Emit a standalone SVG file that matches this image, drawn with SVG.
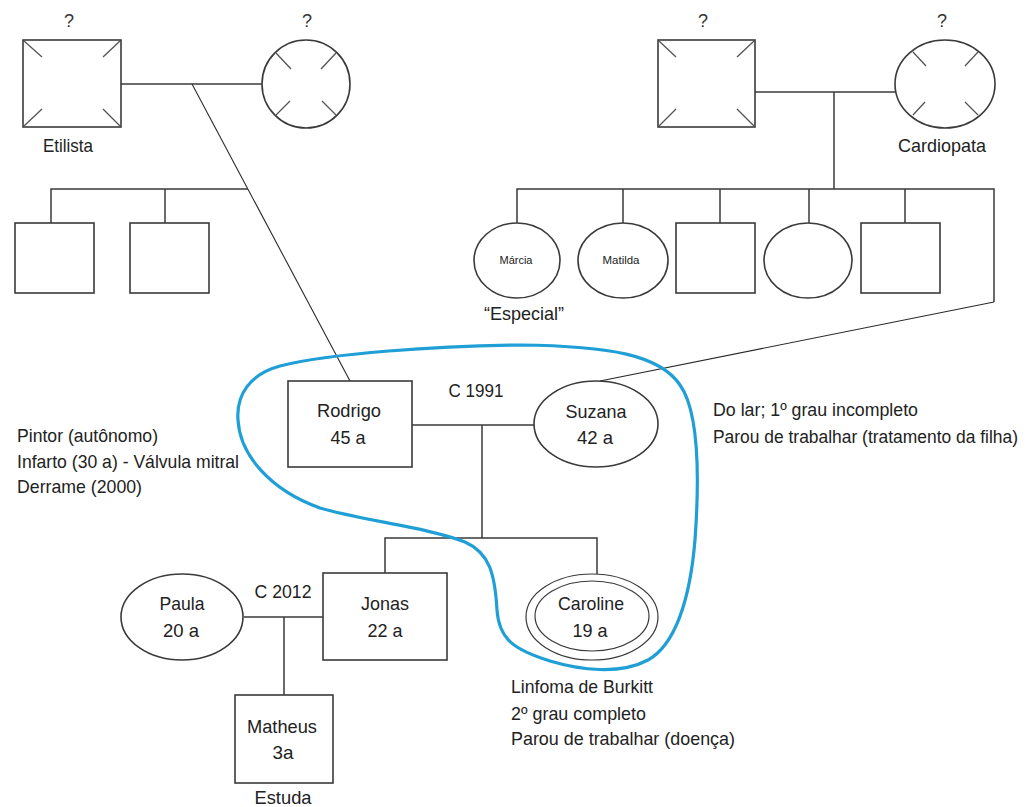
<svg xmlns="http://www.w3.org/2000/svg" width="1035" height="807" viewBox="0 0 1035 807">
<style>
.ln{stroke:#3a3a3a;stroke-width:1.5;fill:none}
.thin{stroke:#2a2a2a;stroke-width:1.1;fill:none}
.sh{fill:#fff;stroke:#3a3a3a;stroke-width:1.6}
.tk{stroke:#555;stroke-width:1.3}
.t{font-family:"Liberation Sans",Arial,sans-serif;font-size:19px;fill:#222;text-anchor:middle}
.tl{font-family:"Liberation Sans",Arial,sans-serif;font-size:19px;fill:#222}
.tr{font-family:"Liberation Sans",Arial,sans-serif;font-size:17.5px;fill:#222}
.ts{font-family:"Liberation Sans",Arial,sans-serif;font-size:11px;fill:#222;text-anchor:middle}
.q{font-family:"Liberation Sans",Arial,sans-serif;font-size:18px;fill:#333;text-anchor:middle}
.hl{fill:none;stroke:#1f9fd6;stroke-width:3.2}
</style>
<rect width="1035" height="807" fill="#fff"/>
<g id="connectors">
<line class="ln" x1="121" y1="84" x2="262" y2="84"/>
<line class="thin" x1="192" y1="84" x2="350" y2="381"/>
<polyline class="ln" points="51,223 51,189 248,189"/>
<line class="ln" x1="165" y1="189" x2="165" y2="223"/>
<line class="ln" x1="755" y1="92" x2="896" y2="92"/>
<line class="ln" x1="834" y1="92" x2="834" y2="189"/>
<polyline class="ln" points="517,223 517,189 994,189 994,302"/>
<line class="ln" x1="623" y1="189" x2="623" y2="223"/>
<line class="ln" x1="720" y1="189" x2="720" y2="223"/>
<line class="ln" x1="809" y1="189" x2="809" y2="223"/>
<line class="ln" x1="905" y1="189" x2="905" y2="223"/>
<line class="thin" x1="994" y1="302" x2="600" y2="381"/>
<line class="ln" x1="412" y1="425" x2="534" y2="425"/>
<line class="ln" x1="482" y1="425" x2="482" y2="538"/>
<polyline class="ln" points="385,573 385,538 597,538 597,574"/>
<line class="ln" x1="244" y1="617" x2="323" y2="617"/>
<line class="ln" x1="284" y1="617" x2="284" y2="695"/>
</g>
<g id="gf-paternal">
<rect class="sh" x="23" y="40" width="98" height="87"/>
<path class="tk" d="M24 41L42 57M120 41L103 57M24 126L42 109M120 126L103 109"/>
<text class="q" x="69" y="27">?</text>
<text class="t" x="68" y="152" textLength="50" lengthAdjust="spacingAndGlyphs">Etilista</text>
</g>
<g id="gm-paternal">
<ellipse class="sh" cx="306" cy="84" rx="44" ry="44"/>
<path class="tk" d="M276 53L291 69M336 53L321 69M276 115L290 101M336 115L322 101"/>
<text class="q" x="307" y="27">?</text>
</g>
<g id="uncle1"><rect class="sh" x="15" y="223" width="79" height="70"/></g>
<g id="uncle2"><rect class="sh" x="130" y="223" width="79" height="70"/></g>
<g id="gf-maternal">
<rect class="sh" x="658" y="40" width="97" height="87"/>
<path class="tk" d="M659 41L676 57M754 41L737 57M659 126L676 109M754 126L737 109"/>
<text class="q" x="703" y="27">?</text>
</g>
<g id="gm-maternal">
<ellipse class="sh" cx="945" cy="84" rx="50" ry="44"/>
<path class="tk" d="M913 52L926 66M978 52L965 66M913 115L925 102M978 115L965 102"/>
<text class="q" x="942" y="27">?</text>
<text class="t" x="942" y="152" textLength="88" lengthAdjust="spacingAndGlyphs">Cardiopata</text>
</g>
<g id="marcia">
<ellipse class="sh" cx="517" cy="260.5" rx="43" ry="37.5"/>
<text class="ts" x="516" y="264" textLength="33" lengthAdjust="spacingAndGlyphs">Márcia</text>
<text class="t" x="524" y="320" textLength="80" lengthAdjust="spacingAndGlyphs">“Especial”</text>
</g>
<g id="matilda">
<ellipse class="sh" cx="623" cy="260.5" rx="45" ry="37.5"/>
<text class="ts" x="621" y="264" textLength="37" lengthAdjust="spacingAndGlyphs">Matilda</text>
</g>
<g id="uncle3"><rect class="sh" x="676" y="223" width="79" height="70"/></g>
<g id="aunt4"><ellipse class="sh" cx="808" cy="260.5" rx="44" ry="37.5"/></g>
<g id="uncle5"><rect class="sh" x="861" y="223" width="79" height="70"/></g>
<g id="rodrigo">
<rect class="sh" x="288" y="381" width="124" height="86"/>
<text class="t" x="349" y="417" textLength="64" lengthAdjust="spacingAndGlyphs">Rodrigo</text>
<text class="t" x="348" y="444" textLength="35" lengthAdjust="spacingAndGlyphs">45 a</text>
</g>
<g id="suzana">
<ellipse class="sh" cx="596" cy="424" rx="62" ry="43"/>
<text class="t" x="596" y="418" textLength="61" lengthAdjust="spacingAndGlyphs">Suzana</text>
<text class="t" x="595" y="444" textLength="36" lengthAdjust="spacingAndGlyphs">42 a</text>
</g>
<g id="jonas">
<rect class="sh" x="323" y="573" width="124" height="87"/>
<text class="t" x="385" y="610" textLength="48" lengthAdjust="spacingAndGlyphs">Jonas</text>
<text class="t" x="385" y="637" textLength="35" lengthAdjust="spacingAndGlyphs">22 a</text>
</g>
<g id="paula">
<ellipse class="sh" cx="182" cy="617" rx="61" ry="43"/>
<text class="t" x="182" y="610" textLength="45" lengthAdjust="spacingAndGlyphs">Paula</text>
<text class="t" x="181" y="637" textLength="36" lengthAdjust="spacingAndGlyphs">20 a</text>
</g>
<g id="matheus">
<rect class="sh" x="235" y="695" width="98" height="88"/>
<text class="t" x="282" y="733" textLength="70" lengthAdjust="spacingAndGlyphs">Matheus</text>
<text class="t" x="283" y="759" textLength="21" lengthAdjust="spacingAndGlyphs">3a</text>
<text class="t" x="283" y="804" textLength="57" lengthAdjust="spacingAndGlyphs">Estuda</text>
</g>
<g id="caroline">
<ellipse class="sh" cx="592" cy="617" rx="66" ry="43" style="stroke-width:1.2"/>
<ellipse class="sh" cx="592" cy="616" rx="57" ry="35" style="stroke-width:1.2"/>
<text class="t" x="591" y="610" textLength="66" lengthAdjust="spacingAndGlyphs">Caroline</text>
<text class="t" x="590" y="637" textLength="35" lengthAdjust="spacingAndGlyphs">19 a</text>
</g>
<g id="labels">
<text class="t" x="476" y="397" textLength="55" lengthAdjust="spacingAndGlyphs">C 1991</text>
<text class="t" x="283" y="598" textLength="57" lengthAdjust="spacingAndGlyphs">C 2012</text>
<text class="tl" x="17" y="442" textLength="141" lengthAdjust="spacingAndGlyphs">Pintor (autônomo)</text>
<text class="tl" x="17" y="468" textLength="222" lengthAdjust="spacingAndGlyphs">Infarto (30 a) - Válvula mitral</text>
<text class="tl" x="17" y="493" textLength="125" lengthAdjust="spacingAndGlyphs">Derrame (2000)</text>
<text class="tr" x="713" y="416" textLength="205" lengthAdjust="spacingAndGlyphs">Do lar; 1º grau incompleto</text>
<text class="tr" x="713" y="443" textLength="305" lengthAdjust="spacingAndGlyphs">Parou de trabalhar (tratamento da filha)</text>
<text class="tl" x="511" y="693" textLength="142" lengthAdjust="spacingAndGlyphs">Linfoma de Burkitt</text>
<text class="tl" x="511" y="720" textLength="135" lengthAdjust="spacingAndGlyphs">2º grau completo</text>
<text class="tl" x="511" y="745" textLength="224" lengthAdjust="spacingAndGlyphs">Parou de trabalhar (doença)</text>
</g>
<g id="household">
<path class="hl" d="M520 345C440 346 330 353 280 366C250 374 236 395 238 420C240 455 270 490 320 508C360 520 430 528 465 542C490 553 495 575 497 610C499 640 515 650 550 661C580 670 620 675 648 660C675 645 690 600 695 540C700 470 698 410 680 385C660 355 610 346 520 345Z"/>
</g>
</svg>
